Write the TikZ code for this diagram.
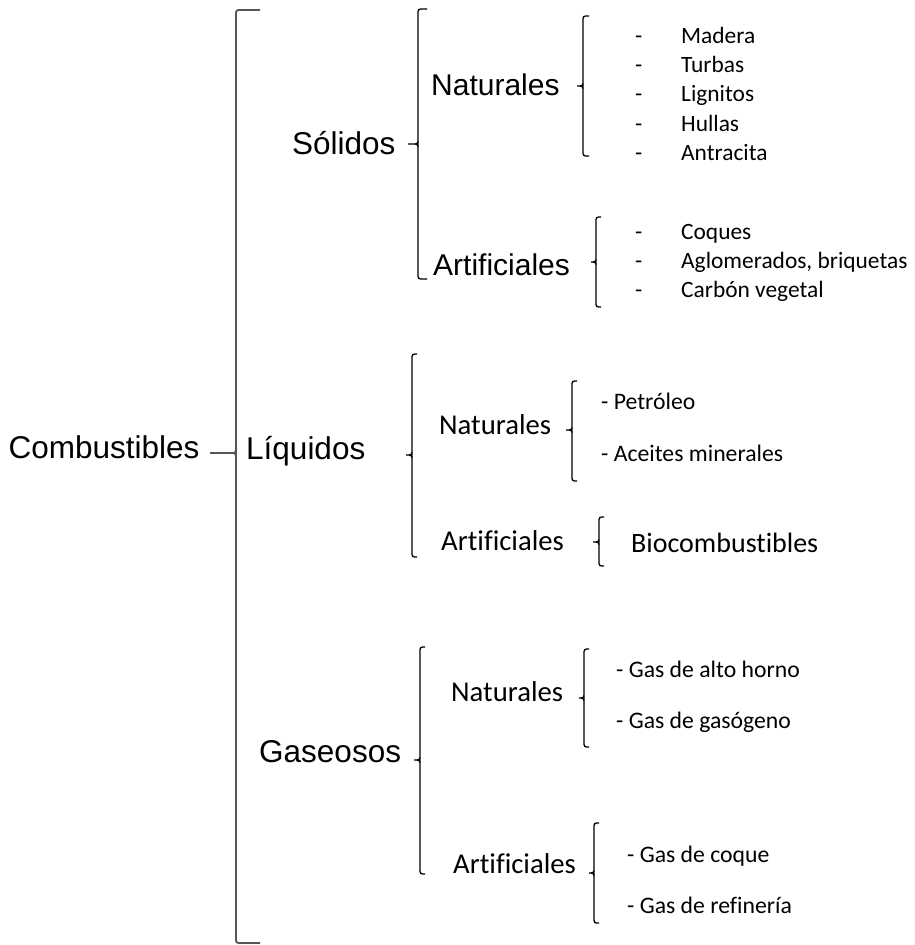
\documentclass[tikz,border=0pt]{standalone}
\usepackage{fontspec}
\usetikzlibrary{calc}
\setmainfont[Ligatures=NoCommon]{Liberation Sans}
\newfontfamily\calibri[Ligatures=NoCommon]{Carlito}
\definecolor{bracegray}{HTML}{555555}

% left curly brace: #1 style, #2 x of the stem, #3 top, #4 middle, #5 bottom,
% #6 x of the middle tick, #7 x reached by the end hooks
\newcommand{\curlyleft}[7]{%
  \draw[#1, rounded corners=2.5pt] (#7,#3) -- (#2,#3) -- (#2,#5) -- (#7,#5);
  \draw[#1] (#6,#4) -- ($(#2,#4)+(-3,0)$) .. controls ($(#2,#4)+(-1,0)$) .. ($(#2,#4)+(0,-2.5)$);
  \draw[#1] ($(#2,#4)+(-3,0)$) .. controls ($(#2,#4)+(-1,0)$) .. ($(#2,#4)+(0,2.5)$);
}

\begin{document}
\begin{tikzpicture}[x=1pt, y=-1pt,
  toplevel/.style={inner sep=0pt, anchor=base west, font=\fontsize{31.5}{36}\selectfont},
  midlevel/.style={inner sep=0pt, anchor=base west, font=\fontsize{30}{34}\selectfont},
  sublevel/.style={inner sep=0pt, anchor=base west, font=\calibri\fontsize{28.7}{33}\selectfont},
  listitem/.style={inner sep=0pt, anchor=base west, font=\calibri\fontsize{23.4}{28}\selectfont},
  dashitem/.style={inner sep=0pt, anchor=base west, font=\calibri\fontsize{23.7}{28}\selectfont},
  bigbrace/.style={draw=bracegray, line width=1.8pt},
  smallbrace/.style={draw=black, line width=1.3pt}]
\useasboundingbox (0,0) rectangle (915,945);

% root and its brace
\node[toplevel] (comb) at (8.5,458) {Combustibles};
\curlyleft{bigbrace}{236}{10}{453}{943}{210}{260}

% ---- solids
\node[toplevel] (sol) at (292,154) {Sólidos};
\curlyleft{smallbrace}{418}{9}{144}{279}{408}{427}

\node[midlevel] (solnat) at (431,95) {Naturales};
\curlyleft{smallbrace}{583}{16}{86}{156}{577}{589}
\node[listitem] (madera)    at (635,43.5)  {\makebox[46pt][l]{-}Madera};
\node[listitem] (turbas)    at (635,72.7)  {\makebox[46pt][l]{-}Turbas};
\node[listitem] (lignitos)  at (635,101.9) {\makebox[46pt][l]{-}Lignitos};
\node[listitem] (hullas)    at (635,131.1) {\makebox[46pt][l]{-}Hullas};
\node[listitem] (antracita) at (635,160.3) {\makebox[46pt][l]{-}Antracita};

\node[midlevel] (solart) at (433,275) {Artificiales};
\curlyleft{smallbrace}{596}{217}{262}{307}{591}{601}
\node[listitem] (coques) at (635,239.4) {\makebox[46pt][l]{-}Coques};
\node[listitem] (aglom)  at (635,268.5) {\makebox[46pt][l]{-}Aglomerados, briquetas};
\node[listitem] (carbon) at (635,297.7) {\makebox[46pt][l]{-}Carbón vegetal};

% ---- liquids
\node[toplevel] (liq) at (246,459) {Líquidos};
\curlyleft{smallbrace}{412}{354}{455}{557}{406}{417}

\node[sublevel] (liqnat) at (439,434) {Naturales};
\curlyleft{smallbrace}{572}{381}{430}{481}{566}{577}
\node[dashitem] (petroleo) at (601,409) {- Petróleo};
\node[dashitem] (aceites)  at (601,461) {- Aceites minerales};

\node[sublevel] (liqart) at (441,550.5) {Artificiales};
\curlyleft{smallbrace}{599}{517}{542}{566}{593}{604}
\node[sublevel, font=\calibri\fontsize{28}{32}\selectfont] (bio) at (631,552) {Biocombustibles};

% ---- gases
\node[toplevel] (gas) at (259,762) {Gaseosos};
\curlyleft{smallbrace}{420}{647}{760}{874}{414}{425}

\node[sublevel] (gasnat) at (451,701) {Naturales};
\curlyleft{smallbrace}{584}{649}{698}{747}{579}{589}
\node[dashitem] (altohorno) at (616,677.5) {- Gas de alto horno};
\node[dashitem] (gasogeno)  at (616,728.5) {- Gas de gasógeno};

\node[sublevel] (gasart) at (453,873) {Artificiales};
\curlyleft{smallbrace}{594}{823}{873}{923}{589}{599}
\node[dashitem] (coque)     at (627,862) {- Gas de coque};
\node[dashitem] (refineria) at (627,913) {- Gas de refinería};
\end{tikzpicture}
\end{document}
